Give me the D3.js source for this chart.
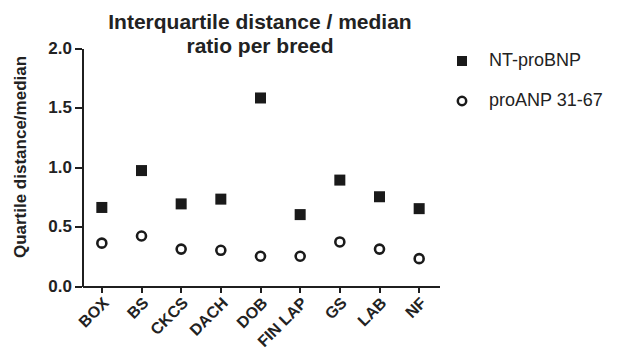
<!DOCTYPE html>
<html>
<head>
<meta charset="utf-8">
<script src="https://cdn.jsdelivr.net/npm/d3@7"></script>
<style>
  body { margin: 0; background: #fff; }
  svg { font-family: "Liberation Sans", Arial, sans-serif; }
  .axis path, .axis line { stroke: #1f1f1f; stroke-width: 2px; shape-rendering: crispEdges; }
  .axis text { fill: #222; font-weight: bold; }
</style>
</head>
<body>
<div id="chart"></div>
<script>
const breeds = ["BOX", "BS", "CKCS", "DACH", "DOB", "FIN LAP", "GS", "LAB", "NF"];
const ntProBNP = [0.66, 0.97, 0.69, 0.73, 1.58, 0.60, 0.89, 0.75, 0.65];
const proANP = [0.36, 0.42, 0.31, 0.30, 0.25, 0.25, 0.37, 0.31, 0.23];
const yTicks = [0, 0.5, 1.0, 1.5, 2.0];
const seriesNames = ["NT-proBNP", "proANP 31-67"];

const W = 624, H = 360;
const ink = "#222222";
const svg = d3.select("#chart").append("svg")
    .attr("width", W)
    .attr("height", H);

const x = d3.scaleBand()
    .domain(breeds)
    .range([82, 439]);

const y = d3.scaleLinear()
    .domain([0, 2])
    .range([286, 48]);

const cx = d => x(d) + x.bandwidth() / 2;

// NT-proBNP squares
svg.append("g").selectAll("rect")
    .data(breeds)
    .enter().append("rect")
    .attr("x", (d) => cx(d) - 5.5)
    .attr("y", (d, i) => y(ntProBNP[i]) - 5.5)
    .attr("width", 11)
    .attr("height", 11)
    .attr("fill", "#1a1a1a");

// proANP circles
svg.append("g").selectAll("circle")
    .data(breeds)
    .enter().append("circle")
    .attr("cx", (d) => cx(d))
    .attr("cy", (d, i) => y(proANP[i]))
    .attr("r", 4.5)
    .attr("fill", "none")
    .attr("stroke", "#1a1a1a")
    .attr("stroke-width", 2.6);

// title
const title = svg.append("text")
    .attr("text-anchor", "middle")
    .attr("font-size", 21)
    .attr("font-weight", "bold")
    .attr("fill", ink);
title.append("tspan").attr("x", 260).attr("y", 29).text("Interquartile distance / median");
title.append("tspan").attr("x", 260).attr("y", 53).text("ratio per breed");

// y label
svg.append("text")
    .attr("transform", "translate(26,157) rotate(-90)")
    .attr("text-anchor", "middle")
    .attr("font-size", 17)
    .attr("font-weight", "bold")
    .attr("fill", ink)
    .text("Quartile distance/median");

// legend
const legend = svg.append("g");
legend.append("rect")
    .attr("x", 457).attr("y", 56).attr("width", 10).attr("height", 10)
    .attr("fill", "#1a1a1a");
legend.append("circle")
    .attr("cx", 462).attr("cy", 101).attr("r", 4.2)
    .attr("fill", "none").attr("stroke", "#1a1a1a").attr("stroke-width", 2.5);
legend.selectAll("text.leg")
    .data(seriesNames)
    .enter().append("text")
    .attr("class", "leg")
    .attr("x", 489)
    .attr("y", (d, i) => 61 + i * 40)
    .attr("dominant-baseline", "middle")
    .attr("font-size", 18)
    .attr("fill", ink)
    .text(d => d);

// axes, drawn last
svg.append("g")
    .attr("class", "axis axis--y")
    .attr("transform", "translate(82,0)")
    .call(d3.axisLeft(y).tickValues(yTicks).tickFormat(d3.format(".1f")).tickSize(7).tickPadding(3).tickSizeOuter(0))
    .selectAll("text")
    .attr("font-size", 17);

const xAxis = svg.append("g")
    .attr("class", "axis axis--x")
    .attr("transform", "translate(0,286)")
    .call(d3.axisBottom(x).tickSize(7).tickSizeOuter(0));
xAxis.selectAll(".tick text")
    .attr("font-size", 16)
    .attr("text-anchor", "end")
    .attr("dy", null)
    .attr("y", 0)
    .attr("x", 0)
    .attr("transform", "translate(5,15) rotate(-45)")
    .attr("dominant-baseline", "middle");
</script>
</body>
</html>
